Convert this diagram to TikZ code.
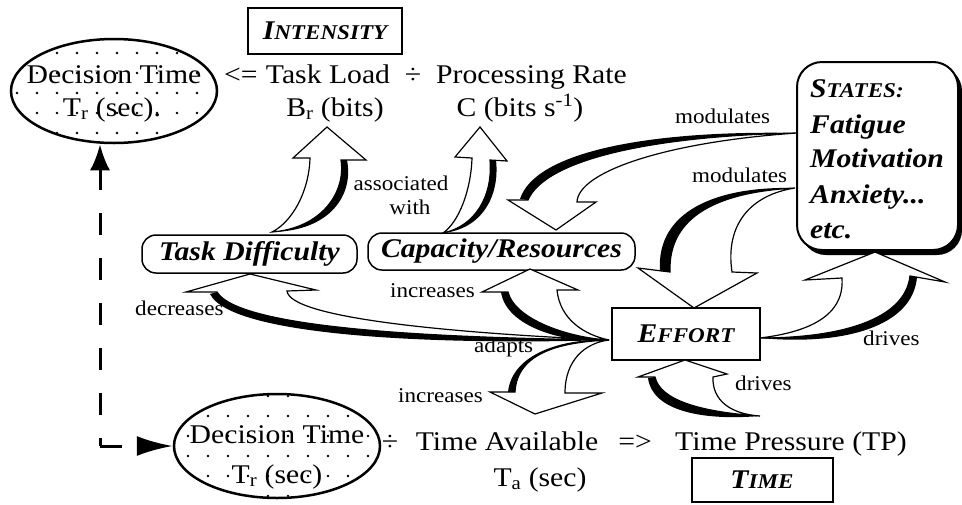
\documentclass[tikz,border=0pt]{standalone}
\usepackage{fontspec}
\setmainfont{Liberation Serif}[FakeStretch=1.1]
\usetikzlibrary{shapes.geometric,arrows.meta}
\newcommand\mysc[2]{{\bfseries\itshape\fontsize{27}{32}\selectfont #1\fontsize{21}{25}\selectfont #2}}
\begin{document}
\begin{tikzpicture}[x=1pt,y=-1pt,
  txt/.style={font=\fontsize{27}{32}\selectfont, inner sep=0pt, anchor=base},
  lbl/.style={font=\fontsize{21}{25}\selectfont, inner sep=0pt, anchor=base west},
  barrow/.style={fill=white, draw=black, line width=1.2pt},
  sqbox/.style={draw, line width=2pt, inner sep=0pt, fill=white, font=\fontsize{27}{32}\selectfont},
  rbox/.style={draw, line width=1.5pt, rounded corners=14pt, inner sep=0pt, font=\fontsize{27}{32}\selectfont\bfseries\itshape},
  ell/.style={draw, ellipse, line width=2.5pt, minimum width=206pt, minimum height=104pt, inner sep=0pt},
  dashline/.style={line width=3pt, dash pattern=on 22pt off 23pt}
]
\useasboundingbox (0,0) rectangle (962,504);

% ---------- dotted ellipses ----------
\begin{scope}
\clip (114,91) ellipse [x radius=102, y radius=51];
\foreach \i in {-5,...,5} \foreach \j in {-3,...,3} \fill (117+20*\i, 93+20*\j) circle [radius=1.3];
\end{scope}
\begin{scope}
\clip (277,446) ellipse [x radius=102, y radius=51];
\foreach \i in {-5,...,5} \foreach \j in {-3,...,3} \fill (268+20*\i, 436+20*\j) circle [radius=1.3];
\end{scope}
\node[ell] (dt1) at (114,91) {};
\node[ell] (dt2) at (277,446) {};

% ---------- top formula ----------
\node[txt] (dt1a) at (114,83) {Decision Time};
\node[txt] (dt1b) at (112,116) {T\textsubscript{r} (sec).};
\node[txt, anchor=base west] (le) at (224,83) {<=};
\node[txt] (tl) at (328,83) {Task Load};
\node[txt] (dv1) at (413,83) {÷};
\node[txt, anchor=base west] (pr) at (436,83) {Processing Rate};
\node[txt] (br) at (335,116) {B\textsubscript{r} (bits)};
\node[txt] (cb) at (520,116) {C (bits s\textsuperscript{-1})};
\node[sqbox, minimum width=154pt, minimum height=46pt] (int) at (325,31) {\mysc{I}{NTENSITY}};

% ---------- bottom formula ----------
\node[txt] (dt2a) at (277,443) {Decision Time};
\node[txt] (dt2b) at (277,483) {T\textsubscript{r} (sec)};
\node[txt] (dv2) at (390,450) {÷};
\node[txt] (ta) at (507,450) {Time Available};
\node[txt] (impl) at (635,450) {=>};
\node[txt, anchor=base west] (tp) at (675,450) {Time Pressure (TP)};
\node[txt] (tasec) at (540,486) {T\textsubscript{a} (sec)};
\node[sqbox, minimum width=141pt, minimum height=44pt] (time) at (762,480) {\mysc{T}{IME}};

% ---------- boxes ----------
\node[rbox, minimum width=215pt, minimum height=38pt] (td) at (249.5,254) {Task Difficulty};
\node[rbox, minimum width=267pt, minimum height=37pt] (cap) at (501.5,251.5) {Capacity/Resources};
\node[sqbox, minimum width=148pt, minimum height=52pt] (eff) at (686,334) {\mysc{E}{FFORT}};

\fill[rounded corners=25pt] (801,66) rectangle (962,255);
\node[draw, line width=2pt, rounded corners=25pt, fill=white, minimum width=161pt, minimum height=188pt, inner sep=0pt] (st) at (877.5,156) {};
\node[anchor=base west, inner sep=0pt] (st1) at (810,97) {\mysc{S}{TATES:}};
\node[anchor=base west, inner sep=0pt, font=\fontsize{27}{32}\selectfont\bfseries\itshape] (st2) at (810,133) {Fatigue};
\node[anchor=base west, inner sep=0pt, font=\fontsize{27}{32}\selectfont\bfseries\itshape] (st3) at (810,167) {Motivation};
\node[anchor=base west, inner sep=0pt, font=\fontsize{27}{32}\selectfont\bfseries\itshape] (st4) at (810,203) {Anxiety...};
\node[anchor=base west, inner sep=0pt, font=\fontsize{27}{32}\selectfont\bfseries\itshape] (st5) at (810,238) {etc.};

% ---------- dashed feedback arrow ----------
\coordinate (corner) at (100,446);
\draw[dashline, dash phase=14pt, -{Latex[length=26pt,width=20pt]}] (corner) -- (corner |- dt1.south);
\draw[dashline, -{Latex[length=36pt,width=20pt]}] (corner) -- (dt2.west);

% ---------- block arrows ----------
% Task Difficulty -> B_r
\draw[barrow] (272,232) .. controls (292,222) and (309,192) .. (310,158) -- (293,158) -- (327,127) -- (366,160) -- (341,160) .. controls (346,192) and (322,228) .. (272,232) -- cycle;
\fill (341,160) .. controls (346,192) and (322,228) .. (272,232) .. controls (330,231) and (354,195) .. (347,160) -- cycle;
% Capacity -> C
\draw[barrow] (443,233) .. controls (459,222) and (471,190) .. (472,158) -- (455,157) -- (480,127) -- (507,161) -- (490,160) .. controls (493,195) and (476,226) .. (443,233) -- cycle;
\fill (490,160) .. controls (493,195) and (476,226) .. (443,233) .. controls (482,229) and (500,196) .. (496,160) -- cycle;
% States -> Capacity
\draw[barrow] (797,133) .. controls (650,136) and (545,160) .. (528,200) -- (508,200) -- (556,230) -- (596,202) -- (577,202) .. controls (578,172) and (665,142) .. (797,133) -- cycle;
\fill (797,133) .. controls (650,136) and (545,160) .. (528,200) -- (520,199) .. controls (535,152) and (648,130) .. (797,133) -- cycle;
% States -> Effort
\draw[barrow] (795,188) .. controls (720,192) and (668,215) .. (670,272) -- (638,268) -- (694,308) -- (757,273) -- (732,272) .. controls (725,225) and (750,195) .. (795,188) -- cycle;
\fill (795,188) .. controls (720,192) and (668,215) .. (670,272) -- (660,271) .. controls (656,212) and (715,186) .. (795,188) -- cycle;
% Effort -> States
\draw[barrow] (760,338) .. controls (800,333) and (845,320) .. (842,278) -- (805,280) -- (875,252) -- (945,282) -- (910,276) .. controls (905,320) and (840,338) .. (760,338) -- cycle;
\fill (910,276) .. controls (905,320) and (840,338) .. (760,338) .. controls (845,346) and (913,326) .. (917,277) -- cycle;
% Effort -> Task Difficulty
\draw[barrow] (609,340) .. controls (450,338) and (240,330) .. (217,292) -- (186,292) -- (250,274) -- (316,290) -- (287,291) .. controls (290,318) and (450,333) .. (609,340) -- cycle;
\fill (609,340) .. controls (450,338) and (240,330) .. (217,292) -- (210,294) .. controls (232,338) and (450,345) .. (609,340) -- cycle;
% Effort -> Capacity
\draw[barrow] (609,340) .. controls (570,338) and (515,320) .. (508,292) -- (482,292) -- (530,269) -- (578,290) -- (557,290) .. controls (560,320) and (585,335) .. (609,340) -- cycle;
\fill (609,340) .. controls (570,338) and (515,320) .. (508,292) -- (501,292) .. controls (506,327) and (565,344) .. (609,340) -- cycle;
% Effort -> Time Available
\draw[barrow] (609,340) .. controls (562,342) and (517,352) .. (515,392) -- (490,392) -- (535,414) -- (602,393) -- (565,393) .. controls (565,360) and (585,343) .. (609,340) -- cycle;
\fill (609,340) .. controls (562,342) and (517,352) .. (515,392) -- (508,392) .. controls (512,354) and (562,338) .. (609,340) -- cycle;
% Time Pressure -> Effort
\draw[barrow] (760,416) .. controls (700,412) and (660,400) .. (655,377) -- (638,377) -- (685,360) -- (727,374) -- (713,377) .. controls (712,400) and (730,414) .. (760,416) -- cycle;
\fill (760,416) .. controls (700,412) and (660,400) .. (655,377) -- (648,378) .. controls (652,410) and (700,421) .. (760,416) -- cycle;

% ---------- labels ----------
\node[lbl] (m1) at (675,123) {modulates};
\node[lbl] (m2) at (692,182) {modulates};
\node[lbl, anchor=base] (as1) at (401,190) {associated};
\node[lbl, anchor=base] (as2) at (410,214) {with};
\node[lbl] (inc1) at (390,297) {increases};
\node[lbl] (dec) at (135,315) {decreases};
\node[lbl] (adp) at (474,352) {adapts};
\node[lbl] (inc2) at (398,402) {increases};
\node[lbl] (drv1) at (735,390) {drives};
\node[lbl] (drv2) at (863,345) {drives};
\end{tikzpicture}
\end{document}
